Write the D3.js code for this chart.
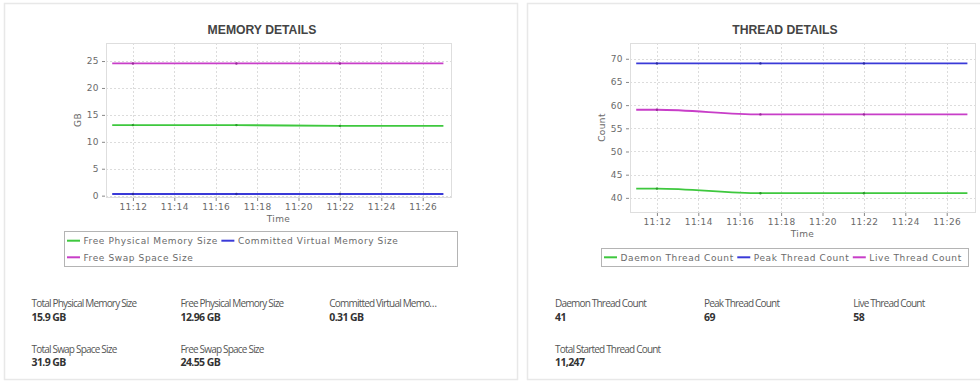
<!DOCTYPE html>
<html><head><meta charset="utf-8">
<script src="https://cdn.jsdelivr.net/npm/d3@7"></script>
<style>
html,body{margin:0;padding:0;background:#fff;}
svg{display:block;}
</style></head>
<body><svg id="c" width="980" height="384"></svg>
<script>
// ---- data ----
const times = ["11:11","11:12","11:17","11:22","11:27"];
const freePhysicalMemory = [13.1, 13.1, 13.1, 12.96, 12.96];
const committedVirtualMemory = [0.31, 0.31, 0.31, 0.31, 0.31];
const freeSwapSpace = [24.55, 24.55, 24.55, 24.55, 24.55];
const daemonThreads = [42, 42, 41, 41, 41];
const peakThreads = [69, 69, 69, 69, 69];
const liveThreads = [59, 59, 58, 58, 58];
const xTickLabels = ["11:12","11:14","11:16","11:18","11:20","11:22","11:24","11:26"];
const memYTicks = [0, 5, 10, 15, 20, 25];
const threadYTicks = [40, 45, 50, 55, 60, 65, 70];
const memSeriesNames = ["Free Physical Memory Size","Committed Virtual Memory Size","Free Swap Space Size"];
const threadSeriesNames = ["Daemon Thread Count","Peak Thread Count","Live Thread Count"];
const memStatLabels = ["Total Physical Memory Size","Free Physical Memory Size","Committed Virtual Memo\u2026","Total Swap Space Size","Free Swap Space Size"];
const memStatValues = ["15.9 GB","12.96 GB","0.31 GB","31.9 GB","24.55 GB"];
const threadStatLabels = ["Daemon Thread Count","Peak Thread Count","Live Thread Count","Total Started Thread Count"];
const threadStatValues = ["41","69","58","11,247"];

const colors = ["#3ec83e","#3a3ad8","#c83ec8"];
const dotColors = ["#2a9a2a","#2a2aa0","#9a2a9a"];

const parseT = d3.timeParse("%H:%M");
const svg = d3.select("#c");

// panels
svg.append("rect").attr("x",4.5).attr("y",3.5).attr("width",513).attr("height",376)
  .attr("fill","#fff").attr("stroke","#e8e8e8").attr("stroke-width",1.5);
svg.append("rect").attr("x",527.5).attr("y",3.5).attr("width",470).attr("height",376)
  .attr("fill","#fff").attr("stroke","#e8e8e8").attr("stroke-width",1.5);

function drawChart(cfg){
  const g = svg.append("g");
  const x = d3.scaleTime()
    .domain([d3.timeSecond.offset(parseT("11:10"),42), d3.timeSecond.offset(parseT("11:27"),22)])
    .range([cfg.left, cfg.right]);
  const y = d3.scaleLinear().domain(cfg.yDomain).range([cfg.bottom, cfg.top]);

  // title
  g.append("text").attr("x",cfg.titleX).attr("y",34).attr("text-anchor","middle")
    .attr("font-family","'Liberation Sans',Arial,sans-serif").attr("font-weight","bold")
    .attr("font-size","12.2px").attr("fill","#444").text(cfg.title);

  // grid
  const xTicks = xTickLabels.map(parseT);
  g.append("g").selectAll("line").data(xTicks).join("line")
    .attr("x1",d=>Math.round(x(d))+0.5).attr("x2",d=>Math.round(x(d))+0.5)
    .attr("y1",cfg.top).attr("y2",cfg.bottom)
    .attr("stroke","#dcdcdc").attr("stroke-dasharray","2,2");
  g.append("g").selectAll("line").data(cfg.yTicks).join("line")
    .attr("y1",d=>Math.round(y(d))+0.5).attr("y2",d=>Math.round(y(d))+0.5)
    .attr("x1",cfg.left).attr("x2",cfg.right)
    .attr("stroke","#dcdcdc").attr("stroke-dasharray","2,2");
  // frame
  g.append("rect").attr("x",cfg.left+0.5).attr("y",cfg.top+0.5)
    .attr("width",cfg.right-cfg.left).attr("height",cfg.bottom-cfg.top)
    .attr("fill","none").attr("stroke","#dedede");

  // axes
  const yAxis = d3.axisLeft(y).tickValues(cfg.yTicks).tickSize(3).tickPadding(3);
  const ya = g.append("g").attr("transform",`translate(${cfg.left-1},0)`).call(yAxis);
  const xAxis = d3.axisBottom(x).tickValues(xTicks).tickFormat(d3.timeFormat("%H:%M")).tickSize(3).tickPadding(3);
  const xa = g.append("g").attr("transform",`translate(0,${cfg.bottom+1})`).call(xAxis);
  [ya,xa].forEach(a=>{
    a.select(".domain").remove();
    a.selectAll(".tick line").attr("stroke","#888");
    a.selectAll("text").attr("font-family","'DejaVu Sans',Verdana,sans-serif")
      .attr("font-size","9px").attr("letter-spacing","0.4px").attr("fill","#6a6a6a");
  });

  // axis labels
  g.append("text").attr("x",(cfg.left+cfg.right)/2).attr("y",cfg.bottom+24.5)
    .attr("text-anchor","middle").attr("font-family","'DejaVu Sans',Verdana,sans-serif")
    .attr("font-size","9px").attr("letter-spacing","0.4px").attr("fill","#6a6a6a").text("Time");
  g.append("text").attr("transform",`translate(${cfg.yLabelX},${(cfg.top+cfg.bottom)/2}) rotate(-90)`)
    .attr("text-anchor","middle").attr("font-family","'DejaVu Sans',Verdana,sans-serif")
    .attr("font-size","9px").attr("letter-spacing","0.4px").attr("fill","#6a6a6a").text(cfg.yLabel);

  // lines
  const line = d3.line().x((d,i)=>x(parseT(times[i]))).y(d=>y(d)).curve(d3.curveMonotoneX);
  cfg.series.forEach((s,k)=>{
    g.append("path").attr("d",line(s)).attr("fill","none")
      .attr("stroke",colors[k]).attr("stroke-width",1.8);
    g.append("g").selectAll("circle").data(s.map((v,i)=>[v,i]).filter(d=>d[1]>0 && d[1]<s.length-1)).join("circle")
      .attr("cx",d=>x(parseT(times[d[1]]))).attr("cy",d=>y(d[0])).attr("r",1.2)
      .attr("fill",dotColors[k]);
  });

  // legend
  const lb = cfg.legend;
  g.append("rect").attr("x",lb.x+0.5).attr("y",lb.y+0.5).attr("width",lb.w).attr("height",lb.h)
    .attr("fill","#fff").attr("stroke","#b4b4b4");
  let cx = lb.x+3, row = 0;
  cfg.names.forEach((n,k)=>{
    if (lb.breaks.includes(k)){ row++; cx = lb.x+3; }
    const cy = lb.rowY[row];
    const t = g.append("text").attr("font-family","'DejaVu Sans',Verdana,sans-serif")
      .attr("font-size","9px").attr("letter-spacing","0.6px").attr("fill","#6a6a6a")
      .attr("x",cx+16.5).attr("y",cy+3.3).text(n);
    const tw = t.node().getComputedTextLength();
    g.append("line").attr("x1",cx).attr("x2",cx+13).attr("y1",cy).attr("y2",cy)
      .attr("stroke",colors[k]).attr("stroke-width",2);
    cx += 16.5 + tw + 3.5;
  });

  // stats
  cfg.stats.labels.forEach((lab,i)=>{
    const col = i % 3, r = Math.floor(i/3);
    const sx = cfg.stats.cols[col], sy = cfg.stats.rows[r];
    g.append("text").attr("x",sx).attr("y",sy).attr("font-family","'Open Sans',sans-serif")
      .attr("font-size","10px").attr("letter-spacing","-0.8px").attr("fill","#555").text(lab);
    g.append("text").attr("x",sx).attr("y",sy+13.5).attr("font-family","'Open Sans',sans-serif")
      .attr("font-size","10.5px").attr("font-weight","bold").attr("letter-spacing","-0.6px")
      .attr("fill","#333").text(cfg.stats.values[i]);
  });
}

drawChart({
  title:"MEMORY DETAILS", titleX:262,
  left:106, right:451, top:43, bottom:197,
  yDomain:[-0.25, 28.35], yTicks:memYTicks, yLabel:"GB", yLabelX:81,
  series:[freePhysicalMemory, committedVirtualMemory, freeSwapSpace],
  names:memSeriesNames,
  legend:{x:64, y:231, w:393, h:35, rowY:[240.7, 257.3], breaks:[2]},
  stats:{labels:memStatLabels, values:memStatValues, cols:[31.5,180.5,329.3], rows:[307,352.5]}
});
drawChart({
  title:"THREAD DETAILS", titleX:785,
  left:630, right:975, top:43, bottom:212,
  yDomain:[36.95, 73.4], yTicks:threadYTicks, yLabel:"Count", yLabelX:605,
  series:[daemonThreads, peakThreads, liveThreads],
  names:threadSeriesNames,
  legend:{x:601, y:248, w:367, h:18, rowY:[257.3], breaks:[]},
  stats:{labels:threadStatLabels, values:threadStatValues, cols:[555,704,853.3], rows:[307,352.5]}
});
</script></body></html>
